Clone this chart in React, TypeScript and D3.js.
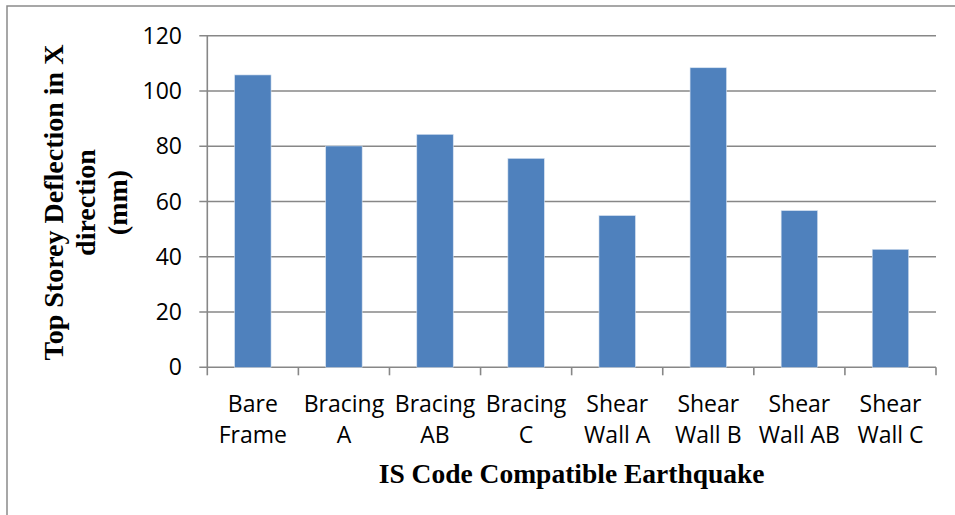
import React from "react";
import * as d3 from "d3";

const categories: string[][] = [
  ["Bare", "Frame"],
  ["Bracing", "A"],
  ["Bracing", "AB"],
  ["Bracing", "C"],
  ["Shear", "Wall A"],
  ["Shear", "Wall B"],
  ["Shear", "Wall AB"],
  ["Shear", "Wall C"],
];
const values: number[] = [105.8, 80.1, 84.3, 75.6, 54.9, 108.4, 56.7, 42.7];
const yTicks: number[] = [0, 20, 40, 60, 80, 100, 120];
const yTitle: string[] = ["Top Storey Deflection in X", "direction", "(mm)"];
const xTitle = "IS Code Compatible Earthquake";

const W = 955;
const H = 515;
const left = 207.3;
const right = 936;
const top = 35.7;
const bottom = 367.3;

export default function App() {
  const keys = categories.map((c) => c.join(" "));
  const x = d3.scaleBand<string>().domain(keys).range([left, right]).paddingInner(0.6).paddingOuter(0.3);
  const y = d3.scaleLinear().domain([0, 120]).range([bottom, top]);
  const step = (right - left) / keys.length;
  const grid = "#878787";
  const sans = "'Open Sans', sans-serif";
  const serif = "'Liberation Serif', serif";
  return (
    <svg
      width={W}
      height={H}
      style={{ position: "absolute", left: 0, top: 0, background: "#fff" }}
    >
      <rect x={0} y={0} width={W} height={H} fill="#fff" />
      <rect x={7} y={6} width={W + 10} height={H + 10} fill="none" stroke="#8a8a8a" strokeWidth={1.5} />
      {yTicks.map((t) => (
        <g key={t}>
          <line x1={left - 8} x2={right} y1={y(t)} y2={y(t)} stroke={grid} strokeWidth={1.6} />
          <text x={182} y={y(t) + 8} textAnchor="end" fontFamily={sans} fontSize={23} fill="#000">
            {t}
          </text>
        </g>
      ))}
      <line x1={left} x2={left} y1={top} y2={bottom} stroke={grid} strokeWidth={1.6} />
      {d3.range(keys.length + 1).map((i) => (
        <line
          key={i}
          x1={left + i * step}
          x2={left + i * step}
          y1={bottom}
          y2={bottom + 8}
          stroke={grid}
          strokeWidth={1.6}
        />
      ))}
      {keys.map((k, i) => (
        <rect
          key={k}
          x={x(k)!}
          y={y(values[i])}
          width={x.bandwidth()}
          height={bottom - y(values[i])}
          fill="#4F81BD"
          stroke="#d6e2f0"
          strokeWidth={0.6}
        />
      ))}
      {keys.map((k, i) => (
        <text
          key={k}
          x={x(k)! + x.bandwidth() / 2}
          textAnchor="middle"
          fontFamily={sans}
          fontSize={23}
          fill="#000"
        >
          <tspan x={x(k)! + x.bandwidth() / 2} y={412}>
            {categories[i][0]}
          </tspan>
          <tspan x={x(k)! + x.bandwidth() / 2} y={443}>
            {categories[i][1]}
          </tspan>
        </text>
      ))}
      <text
        x={(left + right) / 2}
        y={483}
        textAnchor="middle"
        fontFamily={serif}
        fontWeight="bold"
        fontSize={27.5}
        fill="#000"
      >
        {xTitle}
      </text>
      {yTitle.map((line, i) => (
        <text
          key={line}
          transform={`translate(${63 + i * 32},${(top + bottom) / 2 + 1}) rotate(-90)`}
          textAnchor="middle"
          fontFamily={serif}
          fontWeight="bold"
          fontSize={28}
          fill="#000"
        >
          {line}
        </text>
      ))}
    </svg>
  );
}
